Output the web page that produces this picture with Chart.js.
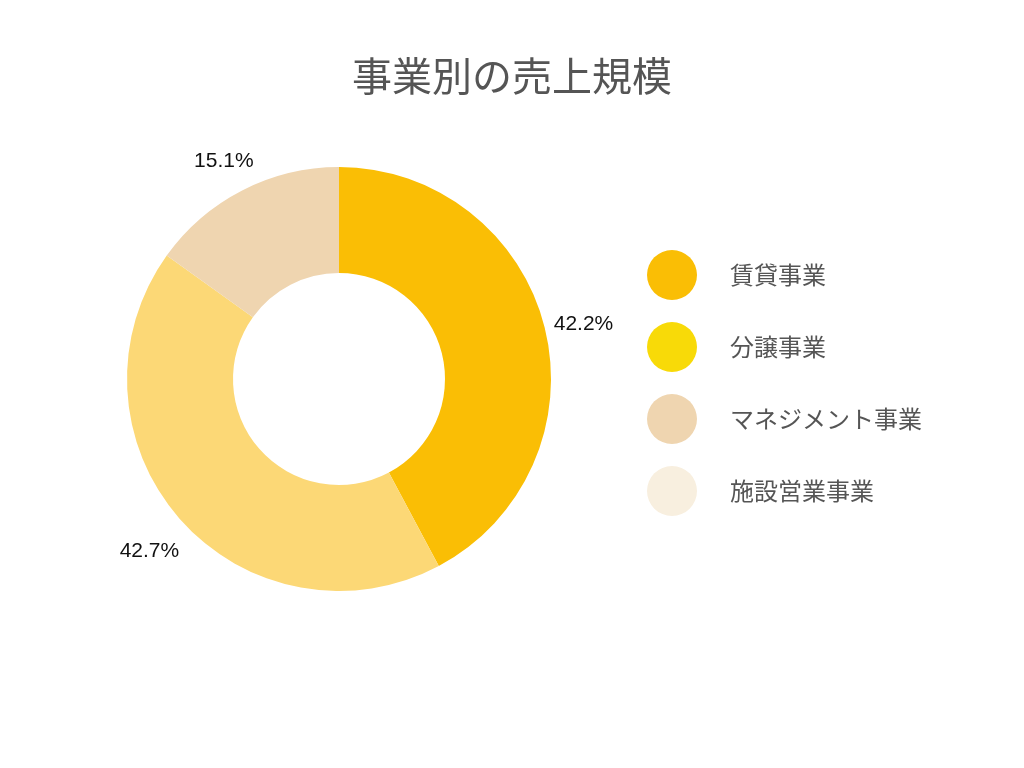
<!DOCTYPE html>
<html lang="ja">
<head>
<meta charset="utf-8">
<title>事業別の売上規模</title>
<script src="https://cdn.jsdelivr.net/npm/chart.js@4.4.1/dist/chart.umd.min.js"></script>
<style>
  html, body { margin: 0; padding: 0; background: #fff; }
  #wrap { width: 1024px; height: 768px; }
</style>
</head>
<body>
<div id="wrap"><canvas id="myChart" width="1024" height="768"></canvas></div>
<script>
const titulo = "事業別の売上規模";
const categorias = ["賃貸事業", "分譲事業", "マネジメント事業", "施設営業事業"];
const valores = [42.2, 42.7, 15.1, 0];
const coloresSlice = ["#FABE05", "#FCD876", "#EFD5B0", "#F8EFDF"];
const coloresLeyenda = ["#FABE05", "#F8DA08", "#EFD5B0", "#F8EFDF"];

// circulos de la leyenda (pointStyle como canvas)
const circulo = (color) => {
    const c = document.createElement("canvas");
    c.width = 50;
    c.height = 50;
    const ctx = c.getContext("2d");
    ctx.fillStyle = color;
    ctx.beginPath();
    ctx.arc(25, 25, 25, 0, Math.PI * 2);
    ctx.fill();
    return c;
};

const etiquetasPorcentaje = {
    id: "etiquetasPorcentaje",
    afterDatasetsDraw(chart) {
        const ctx = chart.ctx;
        const meta = chart.getDatasetMeta(0);
        ctx.save();
        ctx.font = "21px 'Liberation Sans', Arial, sans-serif";
        ctx.fillStyle = "#111";
        ctx.textAlign = "center";
        ctx.textBaseline = "middle";
        meta.data.forEach((arc, i) => {
            const v = valores[i];
            if (!v) return;
            const mid = (arc.startAngle + arc.endAngle) / 2;
            const r = arc.outerRadius + 40;
            ctx.fillText(v.toFixed(1) + "%", arc.x + Math.cos(mid) * r, arc.y + Math.sin(mid) * r + 6);
        });
        ctx.restore();
    }
};

const config = {
    type: "doughnut",
    data: {
        labels: categorias,
        datasets: [{
            data: valores,
            backgroundColor: coloresSlice,
            borderWidth: 0,
            hoverOffset: 0
        }]
    },
    options: {
        responsive: false,
        maintainAspectRatio: false,
        animation: false,
        cutout: "50%",
        layout: {
            padding: { left: 100, right: 100, top: 0, bottom: 177 }
        },
        plugins: {
            title: {
                display: true,
                text: titulo,
                color: "#555",
                font: { family: "'Noto Sans CJK JP', sans-serif", size: 40, weight: "normal" },
                padding: { top: 52, bottom: 67 }
            },
            legend: {
                position: "right",
                fullSize: false,
                maxWidth: 346,
                title: {
                    display: true,
                    text: " ",
                    font: { size: 5 },
                    padding: { top: 1, bottom: 1 }
                },
                labels: {
                    usePointStyle: true,
                    pointStyleWidth: 92,
                    padding: 48,
                    color: "#555",
                    font: { family: "'Noto Sans CJK JP', sans-serif", size: 24 },
                    generateLabels: (chart) => categorias.map((nombre, i) => ({
                        text: nombre,
                        fillStyle: coloresLeyenda[i],
                        strokeStyle: coloresLeyenda[i],
                        fontColor: "#555",
                        lineWidth: 0,
                        pointStyle: circulo(coloresLeyenda[i]),
                        hidden: false,
                        index: i
                    }))
                }
            },
            tooltip: { enabled: false }
        }
    },
    plugins: [etiquetasPorcentaje]
};

new Chart(document.getElementById("myChart"), config);
</script>
</body>
</html>
